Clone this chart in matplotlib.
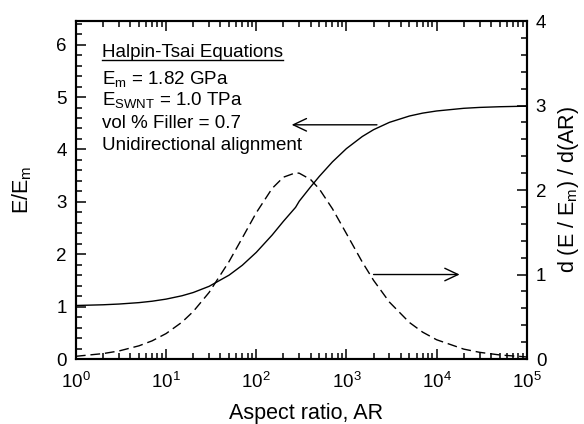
import matplotlib
matplotlib.use('Agg')
import matplotlib.pyplot as plt
from matplotlib.ticker import LogLocator, MultipleLocator, NullFormatter
from matplotlib.lines import Line2D

plt.rcParams['font.family'] = ['Liberation Sans', 'DejaVu Sans']
plt.rcParams['mathtext.fontset'] = 'custom'
plt.rcParams['mathtext.rm'] = 'Liberation Sans'
plt.rcParams['mathtext.it'] = 'Liberation Sans:italic'

# aspect ratio samples
aspect_ratio = [1, 2, 3, 5, 7, 10, 15, 20, 30, 50, 70, 100, 150, 200, 273, 300, 400, 500,
                700, 1000, 1500, 2000, 3000, 5000, 7000, 1e4, 2e4, 3e4, 5e4, 1e5]
# E/Em (left axis)
modulus_ratio = [1.021, 1.035, 1.049, 1.076, 1.103, 1.143, 1.207, 1.269, 1.387, 1.601,
                 1.789, 2.035, 2.366, 2.628, 2.895, 3.013, 3.284, 3.485, 3.763, 4.016,
                 4.247, 4.377, 4.517, 4.638, 4.693, 4.734, 4.785, 4.802, 4.815, 4.826]
# derivative (right axis)
slope = [0.032, 0.064, 0.095, 0.156, 0.215, 0.301, 0.436, 0.562, 0.788, 1.155,
         1.433, 1.731, 2.019, 2.152, 2.204, 2.199, 2.125, 2.013, 1.778, 1.484,
         1.147, 0.931, 0.673, 0.432, 0.318, 0.228, 0.117, 0.079, 0.048, 0.024]

fig = plt.figure(figsize=(5.84, 4.24), dpi=100)
ax = fig.add_axes([0.130, 0.1533, 0.772, 0.797])
ax2 = ax.twinx()

ax.plot(aspect_ratio, modulus_ratio, color='black', lw=1.0)
ax2.plot(aspect_ratio, slope, color='black', lw=1.0, ls=(0, (7, 3.5)))

ax.set_xscale('log')
ax.set_xlim(1, 1e5)
ax.set_ylim(0, 6.45)
ax2.set_ylim(0, 4)

ax.xaxis.set_major_locator(LogLocator(base=10, numticks=10))
ax.xaxis.set_minor_locator(LogLocator(base=10, subs=range(2, 10), numticks=20))
ax.xaxis.set_minor_formatter(NullFormatter())
ax.yaxis.set_major_locator(MultipleLocator(1))
ax.yaxis.set_minor_locator(MultipleLocator(0.2))
ax2.yaxis.set_major_locator(MultipleLocator(1))
ax2.yaxis.set_minor_locator(MultipleLocator(0.2))

for a in (ax, ax2):
    for s in a.spines.values():
        s.set_linewidth(1.5)
ax.tick_params(which='both', direction='in', top=True, right=False, width=1.1, labelsize=13.5)
ax.tick_params(which='major', length=7)
ax.tick_params(which='minor', length=4.5)
ax.tick_params(axis='y', pad=6.5)
ax.tick_params(axis='x', pad=9)
ax2.tick_params(which='both', direction='in', width=1.1, labelsize=13.5, pad=6.5)
ax2.tick_params(which='major', length=7)
ax2.tick_params(which='minor', length=4.5)

ax.set_xlabel('Aspect ratio, AR', fontsize=15.5)
ax.xaxis.set_label_coords(0.51, -0.13)
ax.set_ylabel(r'E/E$_\mathregular{m}$', fontsize=15.5)
ax.yaxis.set_label_coords(-0.093, 0.5)
ax2.set_ylabel(r'd (E / E$_\mathregular{m}$) / d(AR)', fontsize=15.5, rotation=90)
ax2.yaxis.set_label_coords(1.064, 0.5)

fs = 13.5
title = ax.text(0.0576, 0.8926, 'Halpin-Tsai Equations', transform=ax.transAxes,
                va='baseline', fontsize=fs)
ax.text(0.0576, 0.8136, r'E$_\mathregular{m}$ = 1.82 GPa', transform=ax.transAxes,
        va='baseline', fontsize=fs)
ax.text(0.0576, 0.7515, r'E$_\mathregular{SWNT}$ = 1.0 TPa', transform=ax.transAxes,
        va='baseline', fontsize=fs)
ax.text(0.0576, 0.6825, 'vol % Filler = 0.7', transform=ax.transAxes,
        va='baseline', fontsize=fs)
ax.text(0.0576, 0.6183, 'Unidirectional alignment', transform=ax.transAxes,
        va='baseline', fontsize=fs)

# underline for the heading
fig.canvas.draw()
bb = title.get_window_extent()
y0 = bb.y0 + 1
fig.add_artist(Line2D([bb.x0, bb.x1], [y0, y0], color='black', lw=1.0,
                      transform=None))

arrow = dict(arrowstyle='->,head_length=0.95,head_width=0.45', color='black',
             lw=1.0, shrinkA=0, shrinkB=0, mutation_scale=10)
ax.annotate('', xy=(247, 4.47), xytext=(2180, 4.47), arrowprops=arrow)
ax2.annotate('', xy=(18000, 1.0), xytext=(2000, 1.0), arrowprops=arrow)

fig.savefig('out.png', dpi=100)
